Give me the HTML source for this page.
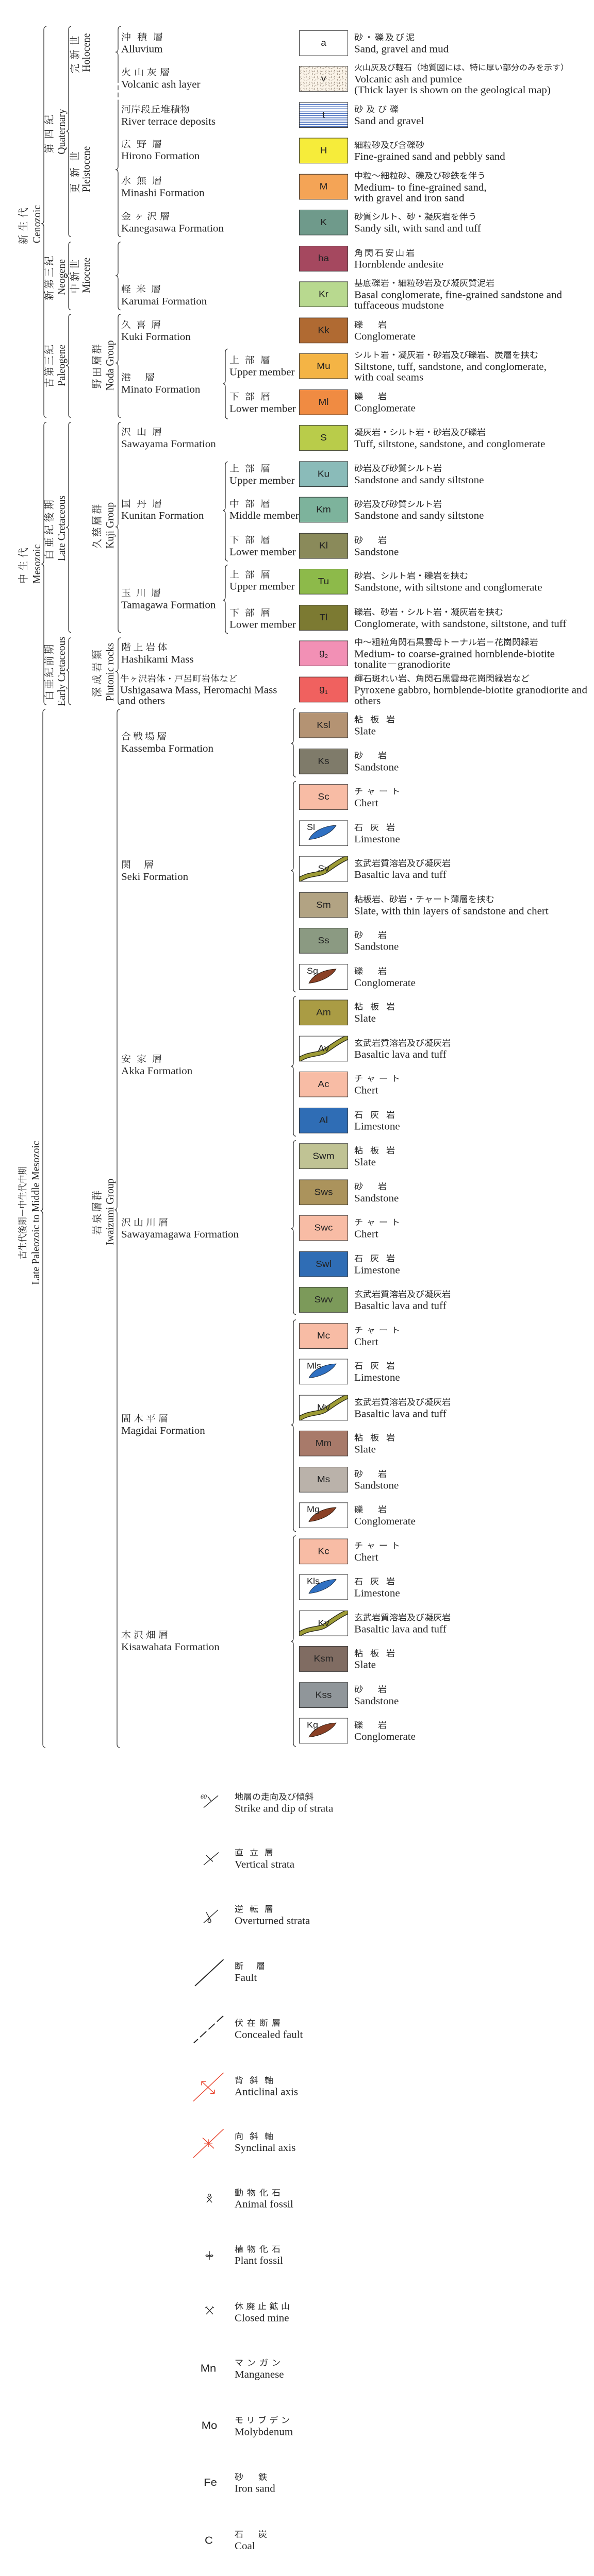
<!DOCTYPE html>
<html><head><meta charset="utf-8">
<style>
html,body{margin:0;padding:0;width:1152px;height:5000px;overflow:hidden;background:#fff}
#w{position:absolute;left:0;top:0;width:1152px;height:5344px;overflow:hidden;background:#fff;color:#262626;font-family:"Liberation Serif","Noto Serif CJK SC",serif;transform:scaleY(0.935629);transform-origin:0 0}
.b{position:absolute;left:580px;width:95px;height:53px;border:1.5px solid #333;box-sizing:border-box;display:flex;align-items:center;justify-content:center;font:19px "Liberation Sans",sans-serif;color:#222;overflow:hidden}
.b span{position:relative}
.pat{position:absolute;left:0;top:0;width:100%;height:100%}
.b .tl{position:absolute;left:14px;top:3px;font-size:18px}
.d,.f,.m,.s{position:absolute;transform:translateY(-50%);white-space:nowrap;font-size:21px;line-height:22.5px}
.d{left:687px}.f{left:235px}.m{left:445px}.s{left:455px}
.j{font-family:"Liberation Serif","Noto Serif CJK SC",serif;font-size:17.5px}
.d .j,.s .j{font-family:"Liberation Sans","Noto Sans CJK JP",sans-serif;font-size:17px;color:#2a2a2a}
.f .j,.m .j{font-size:19px}
.r{position:absolute;transform:translate(-50%,-50%) rotate(-90deg);white-space:nowrap;text-align:center;font-size:21px}
.r .j{font-size:20px}
.c1{line-height:25px}.c2{line-height:23px}.c3{line-height:21px}.c4{line-height:24px}
.sym{position:absolute;transform:translate(-50%,-50%);font:22px "Liberation Sans",sans-serif;color:#222}
.st{position:absolute;left:580px;width:95px;height:53px;border:1.5px solid #333;box-sizing:border-box;background:repeating-linear-gradient(180deg,#f4f7fc 0 3px,#4f74c2 3px 4.6px);display:flex;align-items:center;justify-content:center;font:19px "Liberation Sans",sans-serif;color:#222}
</style></head><body><div id="w">

<svg width="1152" height="4850" style="position:absolute;left:0;top:0">
<g stroke="#333" stroke-width="1.3" fill="none">
<path d="M90 55Q85 55 85 62L85 457Q85 464 80 464Q85 464 85 471L85 859Q85 866 90 866"/>
<path d="M90 876Q85 876 85 883L85 1163Q85 1170 80 1170Q85 1170 85 1177L85 1455Q85 1462 90 1462"/>
<path d="M88 1472Q83 1472 83 1479L83 2505Q83 2512 78 2512Q83 2512 83 2519L83 3618Q83 3625 88 3625"/>
<path d="M138 55Q133 55 133 62L133 265Q133 272 128 272Q133 272 133 279L133 484Q133 491 138 491"/>
<path d="M138 502Q133 502 133 509L133 565Q133 572 128 572Q133 572 133 579L133 636Q133 643 138 643"/>
<path d="M138 652Q133 652 133 659L133 751Q133 758 128 758Q133 758 133 765L133 859Q133 866 138 866"/>
<path d="M138 876Q133 876 133 883L133 1087Q133 1094 128 1094Q133 1094 133 1101L133 1305Q133 1312 138 1312"/>
<path d="M138 1323Q133 1323 133 1330L133 1383Q133 1390 128 1390Q133 1390 133 1397L133 1455Q133 1462 138 1462"/>
<path d="M234 55Q229 55 229 62L229 101Q229 108 224 108Q229 108 229 115L229 162"/>
<path d="M229 162L229 215" stroke-dasharray="10 5"/>
<path d="M229 215L229 345Q229 352 224 352Q229 352 229 359L229 484Q229 491 234 491"/>
<path d="M234 502Q229 502 229 509L229 565Q229 572 224 572Q229 572 229 579L229 636Q229 643 234 643"/>
<path d="M234 652Q229 652 229 659L229 746Q229 753 224 753Q229 753 229 760L229 859Q229 866 234 866"/>
<path d="M234 876Q229 876 229 883L229 1086Q229 1093 224 1093Q229 1093 229 1100L229 1305Q229 1312 234 1312"/>
<path d="M234 1323Q229 1323 229 1330L229 1386Q229 1393 224 1393Q229 1393 229 1400L229 1455Q229 1462 234 1462"/>
<path d="M232 1472Q227 1472 227 1479L227 2503Q227 2510 222 2510Q227 2510 227 2517L227 3618Q227 3625 232 3625"/>
<path d="M442 724Q437 724 437 731L437 789Q437 796 432 796Q437 796 437 803L437 862Q437 869 442 869"/>
<path d="M442 958Q437 958 437 965L437 1052Q437 1059 432 1059Q437 1059 437 1066L437 1157Q437 1164 442 1164"/>
<path d="M442 1172Q437 1172 437 1179L437 1238Q437 1245 432 1245Q437 1245 437 1252L437 1307Q437 1314 442 1314"/>
<path d="M574 1469Q569 1469 569 1476L569 1535Q569 1542 564 1542Q569 1542 569 1549L569 1605Q569 1612 574 1612"/>
<path d="M574 1621Q569 1621 569 1628L569 1799Q569 1806 564 1806Q569 1806 569 1813L569 2051Q569 2058 574 2058"/>
<path d="M574 2067Q569 2067 569 2074L569 2205Q569 2212 564 2212Q569 2212 569 2219L569 2350Q569 2357 574 2357"/>
<path d="M574 2366Q569 2366 569 2373L569 2542Q569 2549 564 2549Q569 2549 569 2556L569 2720Q569 2727 574 2727"/>
<path d="M574 2738Q569 2738 569 2745L569 2949Q569 2956 564 2956Q569 2956 569 2963L569 3170Q569 3177 574 3177"/>
<path d="M574 3186Q569 3186 569 3193L569 3398Q569 3405 564 3405Q569 3405 569 3412L569 3616Q569 3623 574 3623"/>
</g>
<g stroke="#222" stroke-width="1.4" fill="none">
<path d="M395 3750L423 3725M403 3727L410 3737"/>
<path d="M395 3869L424 3843M400 3849L413 3862"/>
<path d="M395 3989L423 3962M400 3967Q404 3975 408 3982Q411 3989 405 3988Q401 3986 406 3981"/>
<path d="M433.5 4065L378 4120" stroke-width="2"/>
<path d="M433 4182L376 4238" stroke-width="2" stroke-dasharray="17 6"/>
<circle cx="406" cy="4554" r="2.5"/>
<path d="M401 4557L411 4569M411 4557L401 4569"/>
<path d="M406 4670L406 4688M406 4680c-8-6-10 4 0 0c8-6 10 4 0 0"/>
<path d="M400 4786L413 4801M413 4786L400 4801M398 4788l4-3M415 4788l-4-3"/>
</g>
<text x="389" y="3731" font-size="12" font-style="italic" font-family="Liberation Serif" fill="#222">60</text>
<g stroke="#e8442e" stroke-width="1.5" fill="none">
<path d="M433.5 4300L375 4359M391 4318L416 4343M391 4318l0 8M391 4318l8 0M416 4343l0-8M416 4343l-8 0"/>
<path d="M433.5 4417L375 4476M393 4435L415 4457M404 4446l-8 0M404 4446l0-8M404 4446l8 0M404 4446l0 8"/>
</g>
</svg>

<div class="r c1" style="left:58.5px;top:465px"><div class="j" style="letter-spacing:8px">新生代</div><div>Cenozoic</div></div>
<div class="r c1" style="left:58.5px;top:1170px"><div class="j" style="letter-spacing:7px">中生代</div><div>Mesozoic</div></div>
<div class="r c1" style="left:57px;top:2516px"><div class="j" style="font-size:17.5px">古生代後期－中生代中期</div><div>Late Paleozoic to Middle Mesozoic</div></div>
<div class="r c2" style="left:107.5px;top:273px"><div class="j" style="letter-spacing:10px">第四紀</div><div>Quaternary</div></div>
<div class="r c2" style="left:107.5px;top:575px"><div class="j" style="letter-spacing:4px">新第三紀</div><div>Neogene</div></div>
<div class="r c2" style="left:107.5px;top:758px"><div class="j" style="letter-spacing:3px">古第三紀</div><div>Paleogene</div></div>
<div class="r c2" style="left:107.5px;top:1096px"><div class="j" style="letter-spacing:6px">白亜紀後期</div><div>Late Cretaceous</div></div>
<div class="r c2" style="left:107.5px;top:1393px"><div class="j" style="letter-spacing:4px">白亜紀前期</div><div>Early Cretaceous</div></div>
<div class="r c3" style="left:156.5px;top:109px"><div class="j" style="letter-spacing:9px">完新世</div><div>Holocene</div></div>
<div class="r c3" style="left:156.5px;top:351px"><div class="j" style="letter-spacing:13px">更新世</div><div>Pleistocene</div></div>
<div class="r c3" style="left:156.5px;top:571px"><div class="j" style="letter-spacing:5px">中新世</div><div>Miocene</div></div>
<div class="r c4" style="left:201px;top:758px"><div class="j" style="letter-spacing:4px">野田層群</div><div>Noda Group</div></div>
<div class="r c4" style="left:201px;top:1090px"><div class="j" style="letter-spacing:4px">久慈層群</div><div>Kuji Group</div></div>
<div class="r c4" style="left:201px;top:1394px"><div class="j" style="letter-spacing:6px">深成岩類</div><div>Plutonic rocks</div></div>
<div class="r c4" style="left:201px;top:2514px"><div class="j" style="letter-spacing:4px">岩泉層群</div><div>Iwaizumi Group</div></div>

<div class="f" style="top:90px"><div class="j" style="letter-spacing:12px">沖積層</div><div>Alluvium</div></div>
<div class="f" style="top:163px"><div class="j" style="letter-spacing:6px">火山灰層</div><div>Volcanic ash layer</div></div>
<div class="f" style="top:240px"><div class="j">河岸段丘堆積物</div><div>River terrace deposits</div></div>
<div class="f" style="top:312px"><div class="j" style="letter-spacing:11px">広野層</div><div>Hirono Formation</div></div>
<div class="f" style="top:388px"><div class="j" style="letter-spacing:11px">水無層</div><div>Minashi Formation</div></div>
<div class="f" style="top:462px"><div class="j" style="letter-spacing:6px">金ヶ沢層</div><div>Kanegasawa Formation</div></div>
<div class="f" style="top:613px"><div class="j" style="letter-spacing:10px">軽米層</div><div>Karumai Formation</div></div>
<div class="f" style="top:687px"><div class="j" style="letter-spacing:10px">久喜層</div><div>Kuki Formation</div></div>
<div class="f" style="top:796px"><div class="j" style="letter-spacing:4px">港　層</div><div>Minato Formation</div></div>
<div class="f" style="top:909px"><div class="j" style="letter-spacing:11px">沢山層</div><div>Sawayama Formation</div></div>
<div class="f" style="top:1058px"><div class="j" style="letter-spacing:11px">国丹層</div><div>Kunitan Formation</div></div>
<div class="f" style="top:1243px"><div class="j" style="letter-spacing:10px">玉川層</div><div>Tamagawa Formation</div></div>
<div class="f" style="top:1356px"><div class="j" style="letter-spacing:4.5px">階上岩体</div><div>Hashikami Mass</div></div>
<div class="f" style="top:1431px;left:233px"><div class="j" style="font-size:17.5px">牛ヶ沢岩体・戸呂町岩体など</div><div>Ushigasawa Mass, Heromachi Mass</div><div>and others</div></div>
<div class="f" style="top:1541px"><div class="j" style="letter-spacing:4px">合戦場層</div><div>Kassemba Formation</div></div>
<div class="f" style="top:1807px"><div class="j" style="letter-spacing:3px">関　層</div><div>Seki Formation</div></div>
<div class="f" style="top:2210px"><div class="j" style="letter-spacing:11px">安家層</div><div>Akka Formation</div></div>
<div class="f" style="top:2549px"><div class="j" style="letter-spacing:5px">沢山川層</div><div>Sawayamagawa Formation</div></div>
<div class="f" style="top:2956px"><div class="j" style="letter-spacing:5px">間木平層</div><div>Magidai Formation</div></div>
<div class="f" style="top:3405px"><div class="j" style="letter-spacing:5px">木沢畑層</div><div>Kisawahata Formation</div></div>

<div class="m" style="top:760px"><div class="j" style="letter-spacing:11px">上部層</div><div>Upper member</div></div>
<div class="m" style="top:836px"><div class="j" style="letter-spacing:11px">下部層</div><div>Lower member</div></div>
<div class="m" style="top:985px"><div class="j" style="letter-spacing:11px">上部層</div><div>Upper member</div></div>
<div class="m" style="top:1058px"><div class="j" style="letter-spacing:11px">中部層</div><div>Middle member</div></div>
<div class="m" style="top:1133px"><div class="j" style="letter-spacing:11px">下部層</div><div>Lower member</div></div>
<div class="m" style="top:1205px"><div class="j" style="letter-spacing:11px">上部層</div><div>Upper member</div></div>
<div class="m" style="top:1284px"><div class="j" style="letter-spacing:11px">下部層</div><div>Lower member</div></div>

<div class="b" style="top:63px;background:#fff"><span>a</span></div>
<div class="b" style="top:137px;background:#faf3e8"><svg class="pat" viewBox="0 0 92 50" preserveAspectRatio="none"><defs><pattern id="ash" width="16" height="12" patternUnits="userSpaceOnUse"><path d="M1 2l3-1.5M8 1l1 3.5M12 4l3-1M3 7l-1 3.5M7 9l3.5 1M13 8l-.5 3" stroke="#6b5a4a" stroke-width=".8" fill="none"/></pattern></defs><rect width="92" height="50" fill="url(#ash)"/></svg><span>v</span></div>
<div class="st" style="top:212px"><span>t</span></div>
<div class="b" style="top:286px;background:#f6ec3a"><span>H</span></div>
<div class="b" style="top:361px;background:#f4a456"><span>M</span></div>
<div class="b" style="top:435px;background:#6f9a8b"><span>K</span></div>
<div class="b" style="top:510px;background:#a5485f"><span>ha</span></div>
<div class="b" style="top:584px;background:#b8d98f"><span>Kr</span></div>
<div class="b" style="top:659px;background:#b06a32"><span>Kk</span></div>
<div class="b" style="top:733px;background:#f4b445"><span>Mu</span></div>
<div class="b" style="top:808px;background:#f08b42"><span>Ml</span></div>
<div class="b" style="top:882px;background:#b9cc4a"><span>S</span></div>
<div class="b" style="top:957px;background:#8abbb9"><span>Ku</span></div>
<div class="b" style="top:1031px;background:#7db39c"><span>Km</span></div>
<div class="b" style="top:1106px;background:#8a8a5a"><span>Kl</span></div>
<div class="b" style="top:1180px;background:#8dba4a"><span>Tu</span></div>
<div class="b" style="top:1255px;background:#7c7a32"><span>Tl</span></div>
<div class="b" style="top:1329px;background:#f290b5"><span>g<sub style="font-size:11px">2</sub></span></div>
<div class="b" style="top:1404px;background:#f0615f"><span>g<sub style="font-size:11px">1</sub></span></div>
<div class="b" style="top:1478px;background:#b49373"><span>Ksl</span></div>
<div class="b" style="top:1553px;background:#7f7b6a"><span>Ks</span></div>
<div class="b" style="top:1627px;background:#f8bca5"><span>Sc</span></div>
<div class="b" style="top:1702px;background:#fff"><svg class="pat" viewBox="0 0 92 50"><path d="M18 38C26 20 48 10 70 9C62 24 40 36 18 38Z" fill="#2f70c2" stroke="#1a2a40" stroke-width="1"/></svg><span class="tl">Sl</span></div>
<div class="b" style="top:1776px;background:#fff"><svg class="pat" viewBox="0 0 92 50"><path d="M-3 49C18 33 36 39 50 29S76 9 95 0" stroke="#2a2a1a" stroke-width="10" fill="none"/><path d="M-3 49C18 33 36 39 50 29S76 9 95 0" stroke="#9d9b35" stroke-width="7" fill="none"/></svg><span>Sv</span></div>
<div class="b" style="top:1851px;background:#b2a383"><span>Sm</span></div>
<div class="b" style="top:1925px;background:#8b9a82"><span>Ss</span></div>
<div class="b" style="top:2000px;background:#fff"><svg class="pat" viewBox="0 0 92 50"><path d="M18 38C26 20 48 10 70 9C62 24 40 36 18 38Z" fill="#8a4025" stroke="#2a1a10" stroke-width="1"/></svg><span class="tl">Sg</span></div>
<div class="b" style="top:2074px;background:#aa9c44"><span>Am</span></div>
<div class="b" style="top:2149px;background:#fff"><svg class="pat" viewBox="0 0 92 50"><path d="M-3 49C18 33 36 39 50 29S76 9 95 0" stroke="#2a2a1a" stroke-width="10" fill="none"/><path d="M-3 49C18 33 36 39 50 29S76 9 95 0" stroke="#9d9b35" stroke-width="7" fill="none"/></svg><span>Av</span></div>
<div class="b" style="top:2223px;background:#f8bca5"><span>Ac</span></div>
<div class="b" style="top:2298px;background:#2f6db5"><span>Al</span></div>
<div class="b" style="top:2372px;background:#c0c394"><span>Swm</span></div>
<div class="b" style="top:2447px;background:#ab935c"><span>Sws</span></div>
<div class="b" style="top:2521px;background:#f8bca5"><span>Swc</span></div>
<div class="b" style="top:2596px;background:#2f6db5"><span>Swl</span></div>
<div class="b" style="top:2670px;background:#7c9a5a"><span>Swv</span></div>
<div class="b" style="top:2745px;background:#f8bca5"><span>Mc</span></div>
<div class="b" style="top:2819px;background:#fff"><svg class="pat" viewBox="0 0 92 50"><path d="M18 38C26 20 48 10 70 9C62 24 40 36 18 38Z" fill="#2f70c2" stroke="#1a2a40" stroke-width="1"/></svg><span class="tl">Mls</span></div>
<div class="b" style="top:2894px;background:#fff"><svg class="pat" viewBox="0 0 92 50"><path d="M-3 49C18 33 36 39 50 29S76 9 95 0" stroke="#2a2a1a" stroke-width="10" fill="none"/><path d="M-3 49C18 33 36 39 50 29S76 9 95 0" stroke="#9d9b35" stroke-width="7" fill="none"/></svg><span>Mv</span></div>
<div class="b" style="top:2968px;background:#a87a6a"><span>Mm</span></div>
<div class="b" style="top:3043px;background:#bab2aa"><span>Ms</span></div>
<div class="b" style="top:3117px;background:#fff"><svg class="pat" viewBox="0 0 92 50"><path d="M18 38C26 20 48 10 70 9C62 24 40 36 18 38Z" fill="#8a4025" stroke="#2a1a10" stroke-width="1"/></svg><span class="tl">Mg</span></div>
<div class="b" style="top:3192px;background:#f8bca5"><span>Kc</span></div>
<div class="b" style="top:3266px;background:#fff"><svg class="pat" viewBox="0 0 92 50"><path d="M18 38C26 20 48 10 70 9C62 24 40 36 18 38Z" fill="#2f70c2" stroke="#1a2a40" stroke-width="1"/></svg><span class="tl">Kls</span></div>
<div class="b" style="top:3341px;background:#fff"><svg class="pat" viewBox="0 0 92 50"><path d="M-3 49C18 33 36 39 50 29S76 9 95 0" stroke="#2a2a1a" stroke-width="10" fill="none"/><path d="M-3 49C18 33 36 39 50 29S76 9 95 0" stroke="#9d9b35" stroke-width="7" fill="none"/></svg><span>Kv</span></div>
<div class="b" style="top:3415px;background:#806c62"><span>Ksm</span></div>
<div class="b" style="top:3490px;background:#90969a"><span>Kss</span></div>
<div class="b" style="top:3564px;background:#fff"><svg class="pat" viewBox="0 0 92 50"><path d="M18 38C26 20 48 10 70 9C62 24 40 36 18 38Z" fill="#8a4025" stroke="#2a1a10" stroke-width="1"/></svg><span class="tl">Kg</span></div>

<div class="d" style="top:90px"><div class="j" style="letter-spacing:3px">砂・礫及び泥</div><div>Sand, gravel and mud</div></div>
<div class="d" style="top:164px"><div class="j" style="font-size:16px">火山灰及び軽石（地質図には、特に厚い部分のみを示す）</div><div>Volcanic ash and pumice</div><div>(Thick layer is shown on the geological map)</div></div>
<div class="d" style="top:239px"><div class="j" style="letter-spacing:6px">砂及び礫</div><div>Sand and gravel</div></div>
<div class="d" style="top:313px"><div class="j">細粒砂及び含礫砂</div><div>Fine-grained sand and pebbly sand</div></div>
<div class="d" style="top:388px"><div class="j">中粒～細粒砂、礫及び砂鉄を伴う</div><div>Medium- to fine-grained sand,</div><div>with gravel and iron sand</div></div>
<div class="d" style="top:462px"><div class="j">砂質シルト、砂・凝灰岩を伴う</div><div>Sandy silt, with sand and tuff</div></div>
<div class="d" style="top:537px"><div class="j" style="letter-spacing:3px">角閃石安山岩</div><div>Hornblende andesite</div></div>
<div class="d" style="top:611px"><div class="j">基底礫岩・細粒砂岩及び凝灰質泥岩</div><div>Basal conglomerate, fine-grained sandstone and</div><div>tuffaceous mudstone</div></div>
<div class="d" style="top:686px"><div class="j" style="letter-spacing:6px">礫　岩</div><div>Conglomerate</div></div>
<div class="d" style="top:760px"><div class="j">シルト岩・凝灰岩・砂岩及び礫岩、炭層を挟む</div><div>Siltstone, tuff, sandstone, and conglomerate,</div><div>with coal seams</div></div>
<div class="d" style="top:835px"><div class="j" style="letter-spacing:6px">礫　岩</div><div>Conglomerate</div></div>
<div class="d" style="top:909px"><div class="j">凝灰岩・シルト岩・砂岩及び礫岩</div><div>Tuff, siltstone, sandstone, and conglomerate</div></div>
<div class="d" style="top:984px"><div class="j">砂岩及び砂質シルト岩</div><div>Sandstone and sandy siltstone</div></div>
<div class="d" style="top:1058px"><div class="j">砂岩及び砂質シルト岩</div><div>Sandstone and sandy siltstone</div></div>
<div class="d" style="top:1133px"><div class="j" style="letter-spacing:6px">砂　岩</div><div>Sandstone</div></div>
<div class="d" style="top:1207px"><div class="j">砂岩、シルト岩・礫岩を挟む</div><div>Sandstone, with siltstone and conglomerate</div></div>
<div class="d" style="top:1282px"><div class="j">礫岩、砂岩・シルト岩・凝灰岩を挟む</div><div>Conglomerate, with sandstone, siltstone, and tuff</div></div>
<div class="d" style="top:1356px"><div class="j">中～粗粒角閃石黒雲母トーナル岩－花崗閃緑岩</div><div>Medium- to coarse-grained hornblende-biotite</div><div>tonalite－granodiorite</div></div>
<div class="d" style="top:1431px"><div class="j">輝石斑れい岩、角閃石黒雲母花崗閃緑岩など</div><div>Pyroxene gabbro, hornblende-biotite granodiorite and</div><div>others</div></div>
<div class="d" style="top:1505px"><div class="j" style="letter-spacing:14px">粘板岩</div><div>Slate</div></div>
<div class="d" style="top:1580px"><div class="j" style="letter-spacing:6px">砂　岩</div><div>Sandstone</div></div>
<div class="d" style="top:1654px"><div class="j" style="letter-spacing:7px">チャート</div><div>Chert</div></div>
<div class="d" style="top:1729px"><div class="j" style="letter-spacing:14px">石灰岩</div><div>Limestone</div></div>
<div class="d" style="top:1803px"><div class="j">玄武岩質溶岩及び凝灰岩</div><div>Basaltic lava and tuff</div></div>
<div class="d" style="top:1878px"><div class="j">粘板岩、砂岩・チャート薄層を挟む</div><div>Slate, with thin layers of sandstone and chert</div></div>
<div class="d" style="top:1952px"><div class="j" style="letter-spacing:6px">砂　岩</div><div>Sandstone</div></div>
<div class="d" style="top:2027px"><div class="j" style="letter-spacing:6px">礫　岩</div><div>Conglomerate</div></div>
<div class="d" style="top:2101px"><div class="j" style="letter-spacing:14px">粘板岩</div><div>Slate</div></div>
<div class="d" style="top:2176px"><div class="j">玄武岩質溶岩及び凝灰岩</div><div>Basaltic lava and tuff</div></div>
<div class="d" style="top:2250px"><div class="j" style="letter-spacing:7px">チャート</div><div>Chert</div></div>
<div class="d" style="top:2325px"><div class="j" style="letter-spacing:14px">石灰岩</div><div>Limestone</div></div>
<div class="d" style="top:2399px"><div class="j" style="letter-spacing:14px">粘板岩</div><div>Slate</div></div>
<div class="d" style="top:2474px"><div class="j" style="letter-spacing:6px">砂　岩</div><div>Sandstone</div></div>
<div class="d" style="top:2548px"><div class="j" style="letter-spacing:7px">チャート</div><div>Chert</div></div>
<div class="d" style="top:2623px"><div class="j" style="letter-spacing:14px">石灰岩</div><div>Limestone</div></div>
<div class="d" style="top:2697px"><div class="j">玄武岩質溶岩及び凝灰岩</div><div>Basaltic lava and tuff</div></div>
<div class="d" style="top:2772px"><div class="j" style="letter-spacing:7px">チャート</div><div>Chert</div></div>
<div class="d" style="top:2846px"><div class="j" style="letter-spacing:14px">石灰岩</div><div>Limestone</div></div>
<div class="d" style="top:2921px"><div class="j">玄武岩質溶岩及び凝灰岩</div><div>Basaltic lava and tuff</div></div>
<div class="d" style="top:2995px"><div class="j" style="letter-spacing:14px">粘板岩</div><div>Slate</div></div>
<div class="d" style="top:3070px"><div class="j" style="letter-spacing:6px">砂　岩</div><div>Sandstone</div></div>
<div class="d" style="top:3144px"><div class="j" style="letter-spacing:6px">礫　岩</div><div>Conglomerate</div></div>
<div class="d" style="top:3219px"><div class="j" style="letter-spacing:7px">チャート</div><div>Chert</div></div>
<div class="d" style="top:3293px"><div class="j" style="letter-spacing:14px">石灰岩</div><div>Limestone</div></div>
<div class="d" style="top:3368px"><div class="j">玄武岩質溶岩及び凝灰岩</div><div>Basaltic lava and tuff</div></div>
<div class="d" style="top:3442px"><div class="j" style="letter-spacing:14px">粘板岩</div><div>Slate</div></div>
<div class="d" style="top:3517px"><div class="j" style="letter-spacing:6px">砂　岩</div><div>Sandstone</div></div>
<div class="d" style="top:3591px"><div class="j" style="letter-spacing:6px">礫　岩</div><div>Conglomerate</div></div>

<div class="s" style="top:3740px"><div class="j">地層の走向及び傾斜</div><div>Strike and dip of strata</div></div>
<div class="s" style="top:3856px"><div class="j" style="letter-spacing:12px">直立層</div><div>Vertical strata</div></div>
<div class="s" style="top:3973px"><div class="j" style="letter-spacing:12px">逆転層</div><div>Overturned strata</div></div>
<div class="s" style="top:4091px"><div class="j" style="letter-spacing:4px">断　層</div><div>Fault</div></div>
<div class="s" style="top:4209px"><div class="j" style="letter-spacing:7px">伏在断層</div><div>Concealed fault</div></div>
<div class="s" style="top:4328px"><div class="j" style="letter-spacing:12px">背斜軸</div><div>Anticlinal axis</div></div>
<div class="s" style="top:4444px"><div class="j" style="letter-spacing:12px">向斜軸</div><div>Synclinal axis</div></div>
<div class="s" style="top:4561px"><div class="j" style="letter-spacing:7px">動物化石</div><div>Animal fossil</div></div>
<div class="s" style="top:4678px"><div class="j" style="letter-spacing:7px">植物化石</div><div>Plant fossil</div></div>
<div class="s" style="top:4797px"><div class="j" style="letter-spacing:5.5px">休廃止鉱山</div><div>Closed mine</div></div>
<div class="s" style="top:4914px"><div class="j" style="letter-spacing:7px">マンガン</div><div>Manganese</div></div>
<div class="s" style="top:5033px"><div class="j" style="letter-spacing:5.5px">モリブデン</div><div>Molybdenum</div></div>
<div class="s" style="top:5151px"><div class="j" style="letter-spacing:6px">砂　鉄</div><div>Iron sand</div></div>
<div class="s" style="top:5270px"><div class="j" style="letter-spacing:6px">石　炭</div><div>Coal</div></div>

<div class="sym" style="left:404px;top:4913px">Mn</div>
<div class="sym" style="left:406px;top:5032px">Mo</div>
<div class="sym" style="left:408px;top:5150px">Fe</div>
<div class="sym" style="left:405px;top:5270px">C</div>

</div></body></html>
